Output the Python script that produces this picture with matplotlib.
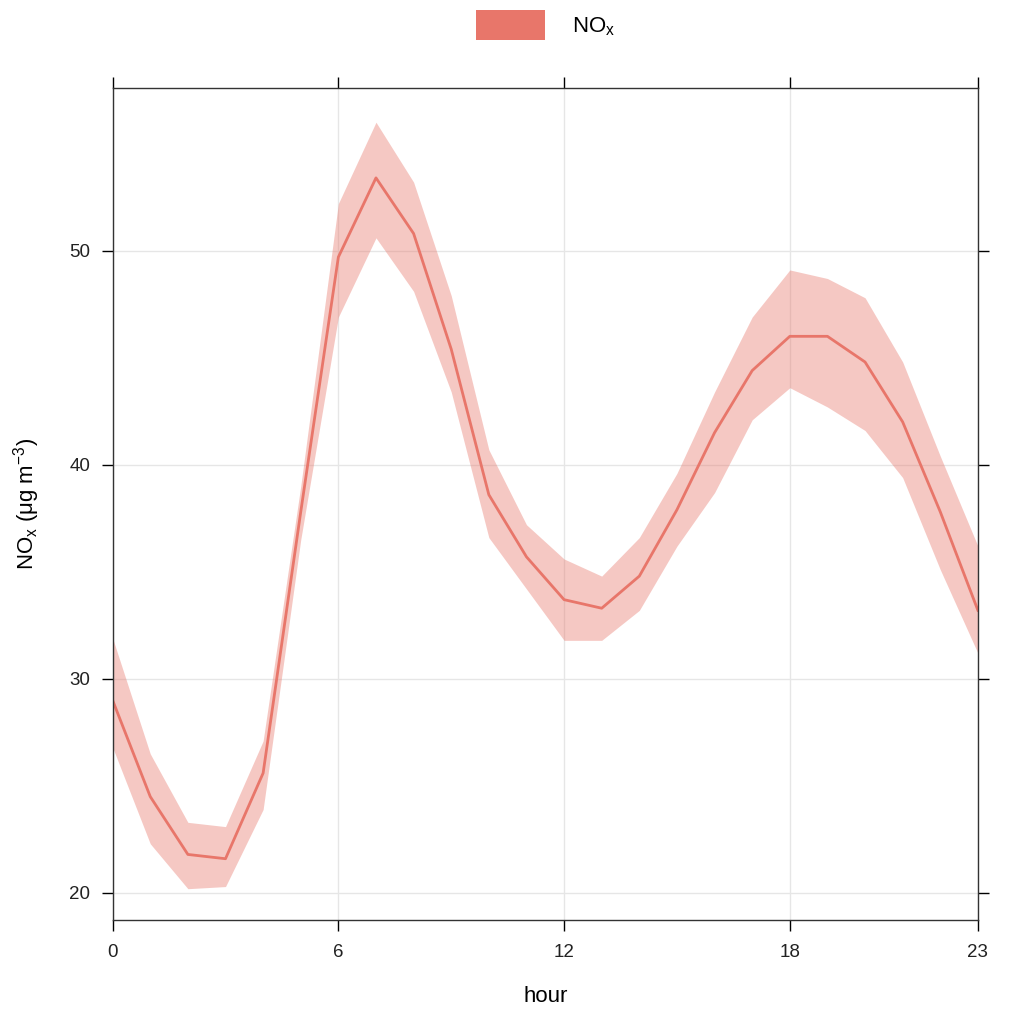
import matplotlib
matplotlib.use("Agg")
import matplotlib.pyplot as plt
from matplotlib.patches import Patch
import numpy as np

# hourly NOx mean with confidence band (timeVariation style)
hour = list(range(24))
nox_mean = [29.0, 24.5, 21.8, 21.6, 25.6, 37.8, 49.7, 53.4, 50.8, 45.4, 38.6, 35.7,
            33.7, 33.3, 34.8, 37.9, 41.5, 44.4, 46.0, 46.0, 44.8, 42.0, 37.8, 33.2]
nox_upper = [31.9, 26.5, 23.3, 23.1, 27.1, 39.0, 52.2, 56.0, 53.2, 47.9, 40.7, 37.2,
             35.6, 34.8, 36.6, 39.6, 43.4, 46.9, 49.1, 48.7, 47.8, 44.8, 40.4, 36.2]
nox_lower = [26.8, 22.3, 20.2, 20.3, 23.9, 36.5, 46.9, 50.6, 48.1, 43.4, 36.6, 34.2,
             31.8, 31.8, 33.2, 36.2, 38.7, 42.1, 43.6, 42.7, 41.6, 39.4, 35.1, 31.2]
x_ticks = [0, 6, 12, 18, 23]
y_ticks = [20, 30, 40, 50]

col = "#E8766A"
plt.rcParams["font.family"] = ["Liberation Sans", "DejaVu Sans"]
plt.rcParams["mathtext.fontset"] = "custom"
plt.rcParams["mathtext.rm"] = "Liberation Sans"

fig = plt.figure(figsize=(10.24, 10.24), dpi=100)
ax = fig.add_axes([0.110, 0.1016, 0.845, 0.8125])

ax.fill_between(hour, nox_lower, nox_upper, color=col, alpha=0.4, linewidth=0)
ax.plot(hour, nox_mean, color=col, linewidth=2)

ax.set_xlim(0, 23)
ax.set_ylim(18.74, 57.6)
ax.set_xticks(x_ticks)
ax.set_yticks(y_ticks)
ax.grid(color="#e6e6e6", linewidth=1)
ax.set_axisbelow(True)

ax.tick_params(direction="out", length=8, width=1, labelsize=13.5, labelcolor="#222222",
               top=True, right=True, labeltop=False, labelright=False)
ax.tick_params(axis="x", pad=9)
ax.tick_params(axis="y", pad=8)
for s in ax.spines.values():
    s.set_linewidth(1)
    s.set_color("#333333")

ax.set_xlabel("hour", fontsize=16, labelpad=18)
ax.set_ylabel(r"NO$_\mathregular{x}$ ($\mathregular{\mu}$g m$^\mathregular{-3}$)", fontsize=16, labelpad=20)

handles = [Patch(facecolor=col, edgecolor="none")]
fig.legend(handles, [r"NO$_\mathregular{x}$"], loc="upper center", bbox_to_anchor=(0.533, 1.01),
           frameon=False, fontsize=16, handlelength=3.1, handleheight=1.7, handletextpad=1.2)

fig.savefig("out.png", dpi=100)
